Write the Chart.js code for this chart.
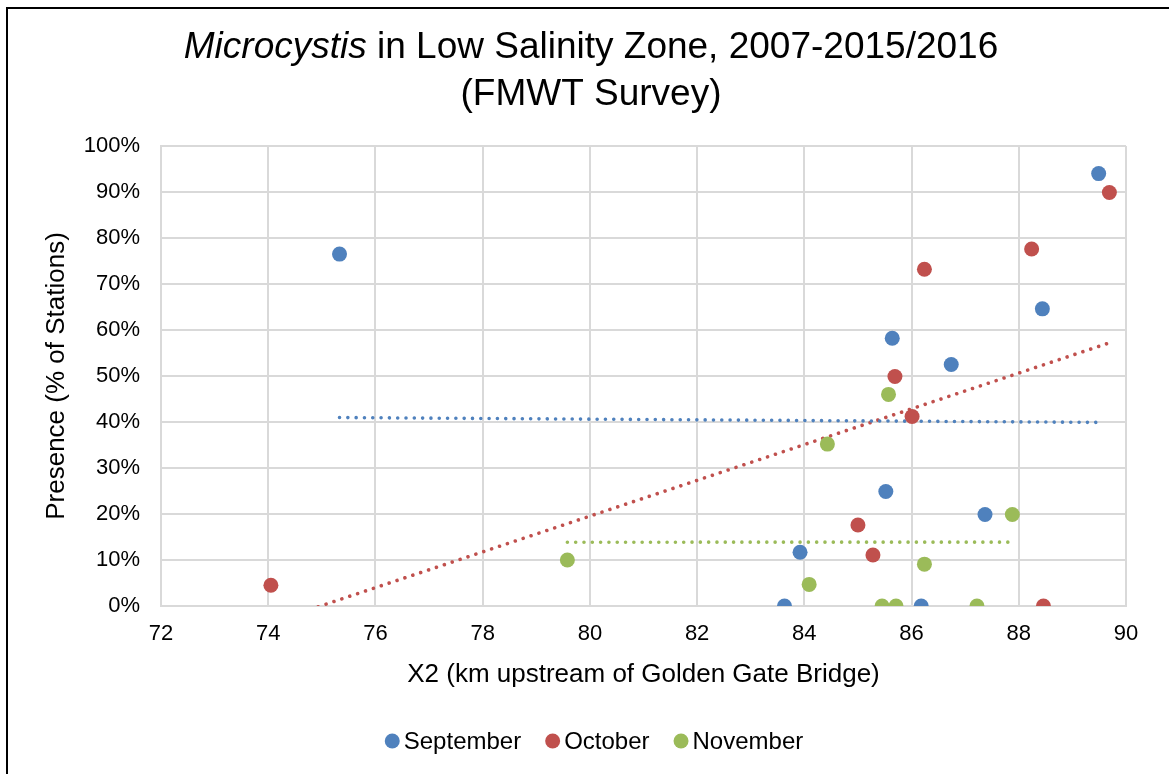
<!DOCTYPE html>
<html>
<head>
<meta charset="utf-8">
<script src="https://cdn.jsdelivr.net/npm/chart.js@4.4.1/dist/chart.umd.min.js"></script>
<style>
  html, body { margin: 0; padding: 0; background: #fff; overflow: hidden; }
  #wrap { position: relative; width: 1169px; height: 774px; }
  #frame { position: absolute; left: 6px; top: 7px; width: 1200px; height: 820px;
           border: 2px solid #000; box-sizing: border-box; }
  canvas { position: absolute; left: 0; top: 0; }
</style>
</head>
<body>
<div id="wrap">
  <div id="frame"></div>
  <canvas id="chart" width="1169" height="774"></canvas>
</div>
<script>
// Presence of Microcystis (% of stations) against X2 position, by survey month
const seriesNames = ['September', 'October', 'November'];
const seriesColors = ['#4F81BD', '#C0504D', '#9BBB59'];

const sepX = [75.33, 83.63, 83.92, 85.52, 85.64, 86.18, 86.74, 87.37, 88.44, 89.49];
const sepY = [76.5, 0, 11.7, 24.9, 58.2, 0, 52.5, 19.9, 64.6, 94.0];

const octX = [74.05, 85.00, 85.28, 85.69, 86.01, 86.24, 88.24, 88.46, 89.69];
const octY = [4.5, 17.6, 11.1, 49.9, 41.2, 73.2, 77.6, 0, 89.9];

const novX = [79.58, 84.09, 84.43, 85.45, 85.57, 85.71, 86.24, 87.22, 87.88];
const novY = [10.0, 4.7, 35.2, 0, 46.0, 0, 9.1, 0, 19.9];

const xTicks = [72, 74, 76, 78, 80, 82, 84, 86, 88, 90];
const yTicks = [0, 10, 20, 30, 40, 50, 60, 70, 80, 90, 100];

const titleItalic = 'Microcystis';
const titleRest = ' in Low Salinity Zone, 2007-2015/2016';
const titleLine2 = '(FMWT Survey)';
const xTitle = 'X2 (km upstream of Golden Gate Bridge)';
const yTitle = 'Presence (% of Stations)';

const FONT = '"Liberation Sans", Arial, Helvetica, sans-serif';

function toPoints(xs, ys) {
  return xs.map((x, i) => ({ x: x, y: ys[i] }));
}

// Least-squares linear trend spanning the series' x range
function linearTrend(xs, ys) {
  const n = xs.length;
  const mx = xs.reduce((a, b) => a + b, 0) / n;
  const my = ys.reduce((a, b) => a + b, 0) / n;
  let sxy = 0, sxx = 0;
  for (let i = 0; i < n; i++) {
    sxy += (xs[i] - mx) * (ys[i] - my);
    sxx += (xs[i] - mx) * (xs[i] - mx);
  }
  const slope = sxy / sxx;
  const x0 = Math.min(...xs), x1 = Math.max(...xs);
  return [
    { x: x0, y: my + slope * (x0 - mx) },
    { x: x1, y: my + slope * (x1 - mx) }
  ];
}

const seriesX = [sepX, octX, novX];
const seriesY = [sepY, octY, novY];

const pointSets = seriesNames.map((name, i) => ({
  type: 'scatter',
  label: name,
  data: toPoints(seriesX[i], seriesY[i]),
  backgroundColor: seriesColors[i],
  borderWidth: 0,
  pointRadius: 7.5,
  pointHoverRadius: 7.5,
  order: 0
}));

const trendSets = seriesNames.map((name, i) => ({
  type: 'line',
  label: name + ' trend',
  data: linearTrend(seriesX[i], seriesY[i]),
  borderColor: seriesColors[i],
  borderWidth: 3.6,
  borderDash: [0.01, 8.3],
  borderCapStyle: 'round',
  pointRadius: 0,
  showLine: true,
  fill: false,
  order: 1
}));

// Two-line title with an italic genus name
const titlePlugin = {
  id: 'mixedTitle',
  afterDraw(chart) {
    const ctx = chart.ctx;
    const cx = 591;
    ctx.save();
    ctx.fillStyle = '#000';
    ctx.textBaseline = 'middle';
    ctx.textAlign = 'left';
    const fItalic = 'italic 37px ' + FONT;
    const fNormal = '37px ' + FONT;
    ctx.font = fItalic;
    const w1 = ctx.measureText(titleItalic).width;
    ctx.font = fNormal;
    const w2 = ctx.measureText(titleRest).width;
    const x0 = cx - (w1 + w2) / 2;
    ctx.font = fItalic;
    ctx.fillText(titleItalic, x0, 48);
    ctx.font = fNormal;
    ctx.fillText(titleRest, x0 + w1, 48);
    ctx.textAlign = 'center';
    ctx.fillText(titleLine2, cx, 95);
    ctx.restore();
  }
};

// Legend row under the axis title: dot + month name, centred
const legendPlugin = {
  id: 'monthLegend',
  afterDraw(chart) {
    const ctx = chart.ctx;
    const r = 7.5, gapDotText = 4, gapItems = 24, cy = 741, cx = 594;
    ctx.save();
    ctx.font = '24px ' + FONT;
    ctx.textBaseline = 'middle';
    ctx.textAlign = 'left';
    const widths = seriesNames.map(n => ctx.measureText(n).width);
    const total = widths.reduce((a, w) => a + 2 * r + gapDotText + w, 0) + gapItems * (seriesNames.length - 1);
    let x = cx - total / 2;
    seriesNames.forEach((n, i) => {
      ctx.fillStyle = seriesColors[i];
      ctx.beginPath();
      ctx.arc(x + r, cy, r, 0, Math.PI * 2);
      ctx.fill();
      ctx.fillStyle = '#000';
      ctx.fillText(n, x + 2 * r + gapDotText, cy + 1);
      x += 2 * r + gapDotText + widths[i] + gapItems;
    });
    ctx.restore();
  }
};

const gridColor = '#d9d9d9';

new Chart(document.getElementById('chart'), {
  type: 'scatter',
  data: { datasets: [...pointSets, ...trendSets] },
  options: {
    responsive: false,
    animation: false,
    events: [],
    layout: { padding: { top: 146, right: 43, left: 0, bottom: 0 } },
    plugins: {
      legend: { display: false },
      title: { display: false },
      tooltip: { enabled: false }
    },
    scales: {
      x: {
        type: 'linear',
        min: xTicks[0],
        max: xTicks[xTicks.length - 1],
        afterBuildTicks(scale) { scale.ticks = xTicks.map(v => ({ value: v })); },
        afterFit(scale) { scale.height = 168; },
        ticks: {
          color: '#000',
          font: { family: FONT, size: 22 },
          padding: 15,
          maxRotation: 0
        },
        grid: { color: gridColor, lineWidth: 2, drawTicks: false },
        border: { display: true, color: gridColor, width: 2 },
        title: {
          display: true,
          text: xTitle,
          color: '#000',
          font: { family: FONT, size: 26 },
          padding: { top: 0, bottom: 84 }
        }
      },
      y: {
        type: 'linear',
        min: yTicks[0],
        max: yTicks[yTicks.length - 1],
        afterBuildTicks(scale) { scale.ticks = yTicks.map(v => ({ value: v })); },
        afterFit(scale) { scale.width = 161; },
        ticks: {
          color: '#000',
          font: { family: FONT, size: 22 },
          padding: 21,
          callback: v => v + '%'
        },
        grid: { color: gridColor, lineWidth: 2, drawTicks: false },
        border: { display: true, color: gridColor, width: 2 },
        title: {
          display: true,
          text: yTitle,
          color: '#000',
          font: { family: FONT, size: 26 },
          padding: { top: 41, bottom: 0 }
        }
      }
    }
  },
  plugins: [titlePlugin, legendPlugin]
});
</script>
</body>
</html>
